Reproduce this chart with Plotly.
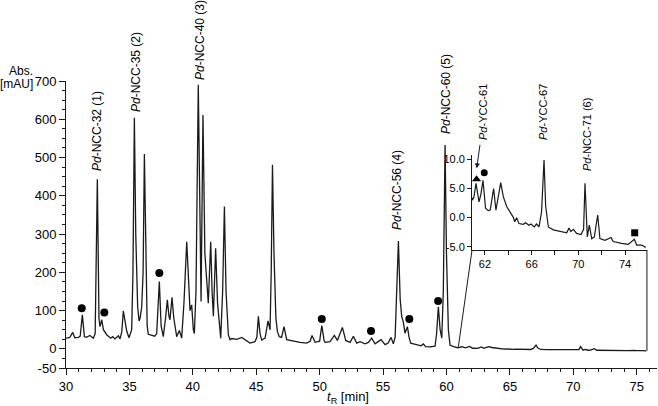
import plotly.graph_objects as go

# chromatogram trace (retention time in min, absorbance in mAU)
time_min = [30.00, 30.30, 30.53, 30.70, 30.98, 31.12, 31.29, 31.45, 31.60, 31.89,
            32.15, 32.30, 32.47, 32.60, 32.68, 32.82, 32.95, 33.21, 33.52, 33.68,
            33.86, 34.13, 34.26, 34.40, 34.52, 34.65, 34.79, 34.97, 35.10, 35.18,
            35.28, 35.39, 35.50, 35.65, 35.76, 35.84, 35.97, 36.08, 36.18, 36.30,
            36.40, 36.49, 36.70, 37.00, 37.15, 37.36, 37.50, 37.67, 37.85, 37.99,
            38.12, 38.20, 38.36, 38.50, 38.73, 38.94, 39.12, 39.30, 39.52, 39.65,
            39.78, 39.91, 40.04, 40.12, 40.25, 40.43, 40.55, 40.65, 40.80, 40.95,
            41.22, 41.41, 41.52, 41.62, 41.80, 41.95, 42.20, 42.35, 42.49, 42.62,
            42.80, 42.93, 43.07, 43.46, 43.86, 44.12, 44.51, 44.90, 45.05, 45.17,
            45.30, 45.43, 45.70, 45.93, 46.09, 46.18, 46.28, 46.40, 46.55, 46.67,
            46.82, 47.00, 47.19, 47.40, 47.93, 48.45, 48.98, 49.25, 49.40, 49.64,
            50.00, 50.17, 50.35, 50.43, 50.82, 51.16, 51.40, 51.79, 52.06, 52.40,
            52.66, 52.92, 53.19, 53.58, 53.84, 54.10, 54.37, 54.84, 55.16, 55.40,
            55.63, 55.81, 55.95, 56.08, 56.21, 56.35, 56.47, 56.60, 56.73, 56.92,
            57.05, 57.18, 57.65, 58.00, 58.18, 58.35, 58.71, 59.10, 59.22, 59.36,
            59.50, 59.63, 59.75, 59.89, 60.00, 60.15, 60.28, 60.55, 60.91, 61.05,
            61.23, 61.49, 61.65, 61.83, 62.05, 62.28, 62.45, 62.74, 62.94, 63.09,
            63.35, 63.57, 63.86, 64.14, 64.43, 64.55, 64.71, 64.91, 65.28, 65.48,
            65.77, 65.94, 66.22, 66.42, 66.63, 66.85, 67.06, 67.20, 67.43, 67.86,
            68.57, 69.00, 69.20, 69.36, 69.57, 69.85, 70.23, 70.45, 70.57, 70.77,
            70.94, 71.15, 71.37, 71.66, 71.85, 72.28, 72.80, 72.99, 73.70, 74.28,
            74.80, 75.00, 75.43, 75.77]
abs_mau = [28, 30, 43, 29, 30, 33, 89, 32, 30, 35,
           28, 40, 443, 80, 58, 76, 50, 37, 28, 32,
           26, 34, 26, 45, 99, 70, 46, 29, 40, 50,
           200, 604, 300, 110, 73, 80, 110, 200, 509, 200,
           60, 38, 36, 33, 40, 176, 60, 32, 80, 128,
           85, 76, 135, 80, 32, 48, 28, 120, 280, 180,
           100, 115, 50, 40, 150, 690, 300, 124, 611, 250,
           119, 280, 150, 85, 263, 120, 28, 150, 372, 150,
           37, 24, 27, 25, 30, 24, 15, 19, 30, 85,
           40, 23, 28, 73, 50, 200, 481, 250, 80, 45,
           32, 30, 58, 24, 20, 17, 15, 20, 35, 17,
           20, 61, 22, 17, 19, 35, 22, 56, 22, 17,
           33, 15, 19, 13, 17, 28, 13, 24, 11, 15,
           30, 13, 30, 150, 282, 130, 85, 70, 41, 58,
           30, 15, 11, 8, 13, 6, 5, 7, 40, 110,
           50, 28, 150, 533, 250, 50, 10, 6, 3.0, 3.5,
           5.9, 2.7, 4.0, 6.4, 1.6, 1.2, 1.3, 5.0, 1.3, 3.3,
           6.0, 3.6, 1.9, 1.0, 0.05, -0.7, 0.0, -1.0, -1.15, -0.87,
           -1.3, -1.1, -1.6, -1.1, -1.6, 1.0, 9.9, 2.0, -1.6, -2.1,
           -2.4, -2.6, -1.8, -2.4, -2.0, -2.7, -2.9, -2.0, 5.9, -3.3,
           -1.3, -3.6, -3.3, 0.45, -3.6, -3.9, -3.4, -4.1, -4.4, -4.6,
           -3.7, -4.7, -4.7, -5.1]

# marker symbols above peaks
dot_t = [31.24, 33.02, 37.36, 50.17, 54.05, 57.07, 59.34]
dot_y = [106, 95, 198, 78, 47, 78, 125]
inset_tri_t = [61.28, 67.0]
inset_tri_y = [6.6, 11.1]
inset_dot_t = [61.94]
inset_dot_y = [7.7]
inset_sq_t = [74.83]
inset_sq_y = [-2.6]

y_ticks = [-50, 0, 100, 200, 300, 400, 500, 600, 700]
inset_x_ticks = [62, 66, 70, 74]
inset_y_ticks = [-5, 0, 5, 10]
inset_y_labels = ["-5.0", "0.0", "5.0", "10.0"]

# peak labels: text, pixel x, pixel y, font size
peak_labels = [
    ("<i>Pd</i>-NCC-32 (1)", 97, 131, 12),
    ("<i>Pd</i>-NCC-35 (2)", 136, 72, 12),
    ("<i>Pd</i>-NCC-40 (3)", 200, 40, 12),
    ("<i>Pd</i>-NCC-56 (4)", 397, 190, 12),
    ("<i>Pd</i>-NCC-60 (5)", 446, 94, 12),
    ("<i>Pd</i>-YCC-61", 483, 112, 11),
    ("<i>Pd</i>-YCC-67", 543, 112, 11),
    ("<i>Pd</i>-NCC-71 (6)", 587, 135, 11),
]

W, H = 658, 406
M_L, M_R, M_T, M_B = 66, 1, 81, 38
X_RANGE = [30, 76.6]
Y_RANGE = [-50, 700]
INSET_DOM_X = [0.687, 0.983]
INSET_DOM_Y = [0.411, 0.742]
INSET_X_RANGE = [60.89, 75.88]
INSET_Y_RANGE = [-5.56, 10.74]

pw = W - M_L - M_R
ph = H - M_T - M_B


def px_to_paper(px, py):
    return (px - M_L) / pw, (H - M_B - py) / ph


def paper_to_main(u, v):
    return (X_RANGE[0] + u * (X_RANGE[1] - X_RANGE[0]),
            Y_RANGE[0] + v * (Y_RANGE[1] - Y_RANGE[0]))


font = "Liberation Sans, Arial, sans-serif"
line_col = "#1a1a1a"

fig = go.Figure()
fig.add_trace(go.Scatter(x=time_min, y=abs_mau, mode="lines",
                         line=dict(color=line_col, width=1.3), xaxis="x", yaxis="y"))
fig.add_trace(go.Scatter(x=dot_t, y=dot_y, mode="markers",
                         marker=dict(symbol="circle", size=8, color="black"), cliponaxis=False))
fig.add_trace(go.Scatter(x=time_min, y=abs_mau, mode="lines",
                         line=dict(color=line_col, width=1.2), xaxis="x2", yaxis="y2"))
fig.add_trace(go.Scatter(x=inset_tri_t, y=inset_tri_y, mode="markers", xaxis="x2", yaxis="y2",
                         marker=dict(symbol="triangle-up", size=8, color="black"), cliponaxis=False))
fig.add_trace(go.Scatter(x=inset_dot_t, y=inset_dot_y, mode="markers", xaxis="x2", yaxis="y2",
                         marker=dict(symbol="circle", size=7, color="black"), cliponaxis=False))
fig.add_trace(go.Scatter(x=inset_sq_t, y=inset_sq_y, mode="markers", xaxis="x2", yaxis="y2",
                         marker=dict(symbol="square", size=7, color="black"), cliponaxis=False))

tick_font = dict(family=font, size=13, color="black")
fig.update_layout(
    width=W, height=H, autosize=False,
    margin=dict(l=M_L, r=M_R, t=M_T, b=M_B),
    paper_bgcolor="white", plot_bgcolor="white",
    showlegend=False,
    font=dict(family=font, color="black"),
    xaxis=dict(range=X_RANGE, showgrid=False, zeroline=False, showline=True, linecolor=line_col,
               linewidth=1, ticks="outside", ticklen=6, tickcolor=line_col, dtick=5, tick0=30,
               tickfont=tick_font,
               minor=dict(dtick=1, ticks="outside", ticklen=3, tickcolor=line_col)),
    yaxis=dict(range=Y_RANGE, showgrid=False, zeroline=False, showline=True, linecolor=line_col,
               linewidth=1, ticks="outside", ticklen=6, tickcolor=line_col,
               tickvals=y_ticks, ticktext=[str(t) for t in y_ticks], tickfont=tick_font,
               minor=dict(dtick=25, tick0=0, ticks="outside", ticklen=3, tickcolor=line_col)),
    xaxis2=dict(domain=INSET_DOM_X, anchor="y2", range=INSET_X_RANGE, showgrid=False,
                zeroline=False, showline=True, linecolor=line_col, linewidth=1,
                ticks="outside", ticklen=4, tickcolor=line_col, tickvals=inset_x_ticks,
                tickfont=dict(family=font, size=11, color="black"),
                minor=dict(dtick=2, tick0=62, ticks="outside", ticklen=4, tickcolor=line_col)),
    yaxis2=dict(domain=INSET_DOM_Y, anchor="x2", range=INSET_Y_RANGE, showgrid=False,
                zeroline=False, showline=True, linecolor=line_col, linewidth=1,
                ticks="outside", ticklen=4, tickcolor=line_col,
                tickvals=inset_y_ticks, ticktext=inset_y_labels,
                tickfont=dict(family=font, size=11, color="black")),
)

# zoom connector lines from the main trace to the inset corners
cx0, cy0 = paper_to_main(INSET_DOM_X[0], INSET_DOM_Y[0])
cx1, _ = paper_to_main(INSET_DOM_X[1], INSET_DOM_Y[0])
fig.add_shape(type="line", xref="x", yref="y", x0=60.94, y0=6, x1=cx0, y1=cy0,
              line=dict(color=line_col, width=1))
fig.add_shape(type="line", xref="x", yref="y", x0=cx1, y0=-5, x1=cx1, y1=cy0,
              line=dict(color=line_col, width=1))

for text, px, py, size in peak_labels:
    u, v = px_to_paper(px, py)
    fig.add_annotation(text=text, xref="paper", yref="paper", x=u, y=v, textangle=-90,
                       showarrow=False, xanchor="center", yanchor="middle",
                       font=dict(family=font, size=size, color="black"))

# arrow pointing at Pd-YCC-61
fig.add_annotation(text="", xref="x2", yref="y2", x=61.29, y=8.46, ax=3.5, ay=-25,
                   showarrow=True, arrowhead=2, arrowsize=1, arrowwidth=1, arrowcolor=line_col)

# axis titles
for text, py in [("Abs.", 71), ("[mAU]", 84)]:
    u, v = px_to_paper(34, py)
    fig.add_annotation(text=text, xref="paper", yref="paper", x=u, y=v, showarrow=False,
                       xanchor="right", yanchor="middle", borderpad=0,
                       font=dict(family=font, size=12, color="black"))
u, v = px_to_paper(348, 397)
fig.add_annotation(text="<i>t</i><sub>R</sub> [min]", xref="paper", yref="paper", x=u, y=v,
                   showarrow=False, xanchor="center", yanchor="middle",
                   font=dict(family=font, size=13, color="black"))

fig.write_html("out.html", config={"displayModeBar": False},
               post_script="document.body.style.margin='0';document.body.style.overflow='hidden';")
